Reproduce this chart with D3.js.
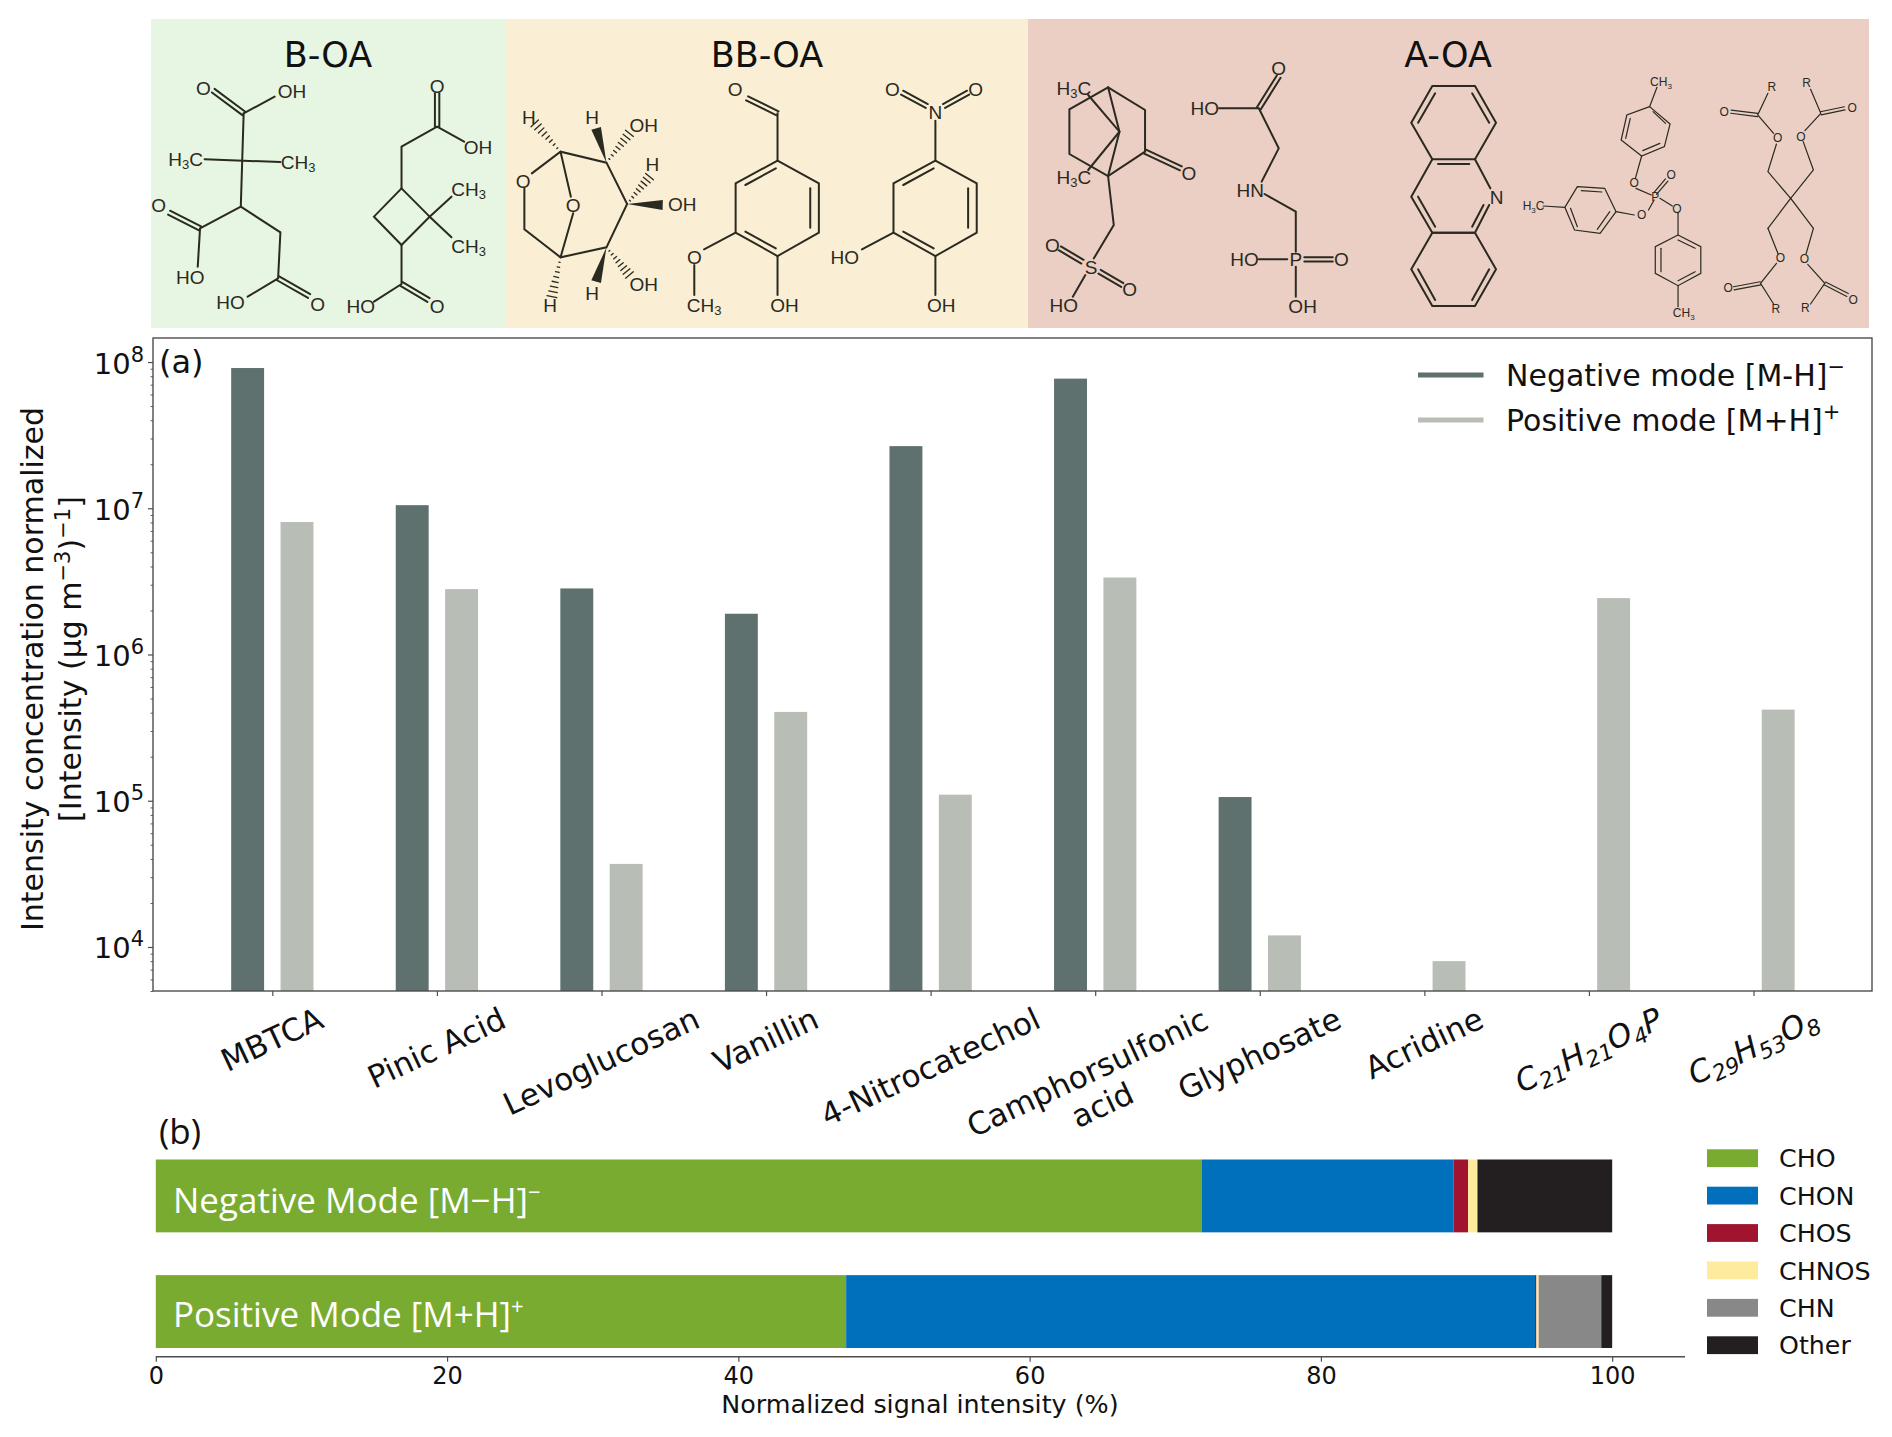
<!DOCTYPE html>
<html><head><meta charset="utf-8">
<script src="https://cdn.jsdelivr.net/npm/d3@7/dist/d3.min.js"></script>
<style>html,body{margin:0;padding:0;background:#fff}svg{display:block}text{fill:#111}</style>
</head><body><svg id="c" width="1892" height="1437"></svg>
<script>
// ---------- data ----------
const categories = ["MBTCA","Pinic Acid","Levoglucosan","Vanillin","4-Nitrocatechol",["Camphorsulfonic","acid"],"Glyphosate","Acridine","C21H21O4P","C29H53O8"];
const negativeValues = [9.1e7,1.05e7,2.83e6,1.9e6,2.66e7,7.7e7,1.06e5,null,null,null];
const positiveValues = [8.05e6,2.8e6,3.7e4,4.05e5,1.1e5,3.36e6,1.2e4,8.0e3,2.43e6,4.2e5];
const yMajorTicks = [1e4,1e5,1e6,1e7,1e8];
const composition = ["CHO","CHON","CHOS","CHNOS","CHN","Other"];
const negativeShares = [71.8,17.3,1.0,0.65,0,9.25];
const positiveShares = [47.4,47.3,0.1,0.15,4.3,0.75];
const modes = ["Negative","Positive"];
const shareTicks = [0,20,40,60,80,100];
const groupLabels = ["B-OA","BB-OA","A-OA"];

// ---------- styles ----------
const NEG="#5f716e",POS="#b8bdb6",AX="#4d4d4d";
const compColor=d3.scaleOrdinal(composition,["#78ab30","#0070bc","#a0142f","#feeb9e","#888888","#231f20"]);
const DV="'DejaVu Sans'", OS="'Open Sans'";
const svg=d3.select("#c");
svg.append("rect").attr("width",1892).attr("height",1437).attr("fill","#fff");

// ---------- header bands ----------
const bands=[[151,506,"#e7f5e3"],[506,1028,"#faefd4"],[1028,1869,"#ebcfc5"]];
svg.selectAll("rect.band").data(bands).join("rect").attr("class","band")
  .attr("x",d=>d[0]).attr("y",19).attr("width",d=>d[1]-d[0]).attr("height",309).attr("fill",d=>d[2]);
svg.selectAll("text.gl").data(groupLabels).join("text").attr("class","gl")
  .attr("x",(d,i)=>[328,767,1448][i]).attr("y",67).attr("text-anchor","middle")
  .attr("font-family",DV).attr("font-size",35).text(d=>d);

// ---------- chemical structures (decoration, drawn in crop coordinates) ----------
const z1=(x,y)=>[130+x/1.742,y/3], z2=(x,y)=>[1000+x/1.758,y/3];
function ring(p){return p.concat(p.slice(0,2));}
const molecules=[
 {z:z1,paths:[[198,340,193,620,122,685,118,800],[198,340,252,290],[130,478,262,486],[193,620,262,697,258,835,205,890]],
  doubles:[[198,340,145,272],[122,685,68,638],[258,835,312,888]],
  atoms:[["O",128,265],["OH",282,272],["H3C",97,478],["CH3",293,487],["O",50,615],["HO",105,830],["HO",175,907],["O",327,913]]},
 {z:z1,paths:[[582,425,535,380,473,440,473,565],ring([473,565,425,650,473,735,522,650]),[522,650,560,590],[522,650,560,712],[473,735,473,852,425,905]],
  doubles:[[535,380,535,280],[473,852,520,900]],
  atoms:[["O",535,257],["OH",606,440],["CH3",590,568],["CH3",590,737],["HO",402,918],["O",535,918]]},
 {z:z1,paths:[[700,520,750,455,830,488,866,612,830,742,750,772,687,688,687,565],[750,455,768,590],[750,772,772,640]],
  wedges:[[830,488,812,385],[866,612,928,615],[830,742,812,845]],
  hashes:[[750,455,705,370],[830,488,870,400],[866,612,905,530],[830,742,870,825],[750,772,735,890]],
  atoms:[["O",685,543],["O",772,615],["H",695,350],["H",805,350],["OH",895,375],["H",910,492],["OH",962,612],["OH",895,852],["H",805,878],["H",732,915]]},
 {z:z1,paths:[ring([1128,482,1200,550,1200,698,1128,768,1055,698,1055,550]),[1125,505,1072,555],[1185,565,1185,683],[1125,745,1072,695],[1128,482,1128,340],[1128,768,1128,885],[1055,698,1000,748],[983,795,983,885]],
  doubles:[[1128,340,1075,295]],
  atoms:[["O",1054,266],["O",983,770],["OH",1140,915],["CH3",1000,915]]},
 {z:z1,paths:[ring([1403,482,1475,550,1475,698,1403,768,1330,698,1330,550]),[1400,505,1347,555],[1460,565,1460,683],[1400,745,1347,695],[1403,482,1403,362],[1403,768,1403,885],[1330,698,1275,748]],
  doubles:[[1388,318,1345,278],[1418,318,1460,278]],
  atoms:[["N",1403,335],["O",1328,266],["O",1473,266],["OH",1413,915],["HO",1245,770]]},
 {z:z2,paths:[ring([190,262,255,330,255,455,190,528,122,462,122,328]),[190,262,210,395,190,528],[155,285,210,395,155,510],[190,528,200,675,165,775],[150,825,128,890]],
  doubles:[[255,455,318,505],[145,785,105,745],[175,815,215,855]],
  atoms:[["H3C",130,265],["H3C",130,530],["O",332,518],["S",160,800],["O",92,735],["O",228,868],["HO",112,915]]},
 {z:z2,paths:[[385,325,455,325,490,445,460,545],[465,582,520,635,520,755],[455,778,505,778],[520,800,520,890]],
  doubles:[[490,230,455,325],[535,778,585,778]],
  atoms:[["O",490,205],["HO",360,325],["HN",440,570],["P",520,778],["HO",430,778],["O",600,778],["OH",532,918]]},
 {z:z2,paths:[ring([760,258,835,258,872,368,835,478,760,478,723,368]),[760,478,723,590,760,698,835,698,860,615],[835,478,862,565],ring([760,698,835,698,872,808,835,918,760,918,723,808]),
   [735,368,765,280],[830,280,860,368],[770,492,825,492],[735,590,765,680],[850,615,830,680],[735,808,765,900],[860,808,830,900]],
  atoms:[["N",873,590]]},
 {z:z2,thin:true,paths:[ring([1142,320,1178,372,1168,440,1128,468,1092,420,1102,345]),[1148,335,1170,370],[1160,430,1130,452],[1100,415,1108,355],[1142,320,1155,262],[1128,468,1117,535],[1118,565,1145,585],
   ring([1015,560,1063,565,1083,635,1055,700,1010,690,993,622]),[1022,572,1058,576],[1072,635,1050,688],[1015,680,1003,625],[993,622,955,618],[1083,635,1115,645],[1140,630,1150,600],
   ring([1192,705,1232,740,1232,820,1192,857,1152,820,1152,740]),[1192,720,1222,745],[1222,815,1192,842],[1162,815,1162,745],[1192,640,1192,705],[1192,857,1192,920],[1160,595,1182,618]],
  doubles:[[1152,580,1172,540]],
  atoms:[["CH3",1162,245],["O",1115,550],["O",1128,645],["O",1190,627],["O",1180,525],["P",1152,590],["H3C",938,618],["CH3",1202,938]]},
 {z:z2,thin:true,paths:[[1390,595,1350,515,1365,432],[1360,400,1332,345,1350,280],[1390,595,1430,510,1412,425],[1415,392,1443,340,1425,268],[1350,685,1390,595,1430,685],[1350,685,1368,762],[1365,790,1337,850,1360,912],[1430,685,1417,762],[1420,793,1450,850,1425,912]],
  doubles:[[1332,345,1285,335],[1443,340,1485,325],[1337,850,1290,865],[1450,850,1490,885]],
  atoms:[["R",1357,262],["O",1273,335],["O",1367,415],["R",1418,250],["O",1498,325],["O",1408,410],["O",1372,775],["O",1280,865],["R",1364,928],["O",1414,777],["R",1416,925],["O",1500,900]]}
];
const INK="#2a2a20";
molecules.forEach(m=>{
  const g=svg.append("g").attr("stroke",INK).attr("stroke-width",m.thin?1.2:2).attr("fill","none").attr("stroke-linecap","round");
  const P=(x,y)=>m.z(x,y);
  (m.paths||[]).forEach(a=>{const pts=[];for(let i=0;i<a.length;i+=2)pts.push(P(a[i],a[i+1]));g.append("path").attr("d",d3.line()(pts));});
  (m.doubles||[]).forEach(a=>{const [x1,y1]=P(a[0],a[1]),[x2,y2]=P(a[2],a[3]);const dx=x2-x1,dy=y2-y1,l=Math.hypot(dx,dy),o=m.thin?1.6:2.2,nx=-dy/l*o,ny=dx/l*o;
    [1,-1].forEach(s=>g.append("line").attr("x1",x1+s*nx).attr("y1",y1+s*ny).attr("x2",x2+s*nx).attr("y2",y2+s*ny));});
  (m.wedges||[]).forEach(a=>{const [x1,y1]=P(a[0],a[1]),[x2,y2]=P(a[2],a[3]);const dx=x2-x1,dy=y2-y1,l=Math.hypot(dx,dy),nx=-dy/l*5,ny=dx/l*5;
    svg.append("path").attr("fill",INK).attr("d",`M${x1},${y1}L${x2+nx},${y2+ny}L${x2-nx},${y2-ny}Z`);});
  (m.hashes||[]).forEach(a=>{const [x1,y1]=P(a[0],a[1]),[x2,y2]=P(a[2],a[3]);const dx=x2-x1,dy=y2-y1,l=Math.hypot(dx,dy),n=8;
    for(let i=1;i<=n;i++){const t=i/n,w=t*5,cx=x1+dx*t,cy=y1+dy*t,nx=-dy/l*w,ny=dx/l*w;
      g.append("line").attr("stroke-width",1.3).attr("x1",cx+nx).attr("y1",cy+ny).attr("x2",cx-nx).attr("y2",cy-ny);}});
  (m.atoms||[]).forEach(a=>{const [x,y]=P(a[1],a[2]);
    const t=svg.append("text").attr("x",x).attr("y",y+(m.thin?4:7)).attr("text-anchor","middle").attr("font-family","'Liberation Sans'")
      .attr("font-size",m.thin?12:19).style("fill",INK);
    let back=0;
    a[0].split(/(\d)/).filter(Boolean).forEach(s=>{
      if(/\d/.test(s)){t.append("tspan").attr("dy",3).attr("font-size",m.thin?8:13).text(s);back=-3;}
      else {t.append("tspan").attr("dy",back).text(s);back=0;}});});
});

// ---------- panel (a) ----------
const ML=153,MR=1872,MT=338,MB=991;
const x=d3.scaleLinear().domain([-0.725,9.72]).range([ML,MR]);
const y=d3.scaleLog().domain([5000,1.46e8]).range([MB,MT]);
const barW=x(0.2)-x(0), off=0.15;
const idx=d3.range(categories.length);
const gA=svg.append("g");
gA.selectAll("rect.neg").data(idx.filter(i=>negativeValues[i]!=null)).join("rect").attr("class","neg")
  .attr("x",i=>x(i-off)-barW/2).attr("width",barW).attr("y",i=>y(negativeValues[i])).attr("height",i=>MB-y(negativeValues[i])).attr("fill",NEG);
gA.selectAll("rect.pos").data(idx).join("rect").attr("class","pos")
  .attr("x",i=>x(i+off)-barW/2).attr("width",barW).attr("y",i=>y(positiveValues[i])).attr("height",i=>MB-y(positiveValues[i])).attr("fill",POS);

// frame
svg.append("rect").attr("x",ML).attr("y",MT).attr("width",MR-ML).attr("height",MB-MT).attr("fill","none").attr("stroke",AX).attr("stroke-width",1.4);

// y axis
const minor=[];yMajorTicks.concat([1e3]).forEach(d=>{for(let k=2;k<10;k++){const v=d*k;if(v>=5000&&v<=1.46e8)minor.push(v);}});
const yMin=svg.append("g").attr("transform",`translate(${ML},0)`).call(d3.axisLeft(y).tickValues(minor).tickSize(2.5).tickFormat(""));
yMin.select(".domain").remove(); yMin.selectAll("line").attr("stroke",AX).attr("stroke-width",.9);
const yMaj=svg.append("g").attr("transform",`translate(${ML},0)`).call(d3.axisLeft(y).tickValues(yMajorTicks).tickSize(5).tickPadding(9).tickFormat(""));
yMaj.select(".domain").remove(); yMaj.selectAll("line").attr("stroke",AX).attr("stroke-width",1.2);
yMaj.selectAll("text").each(function(d){
  const t=d3.select(this).attr("font-family",DV).attr("font-size",29).attr("text-anchor","end").attr("dy",null).attr("y",11).attr("x",-9);
  t.selectAll("*").remove();
  t.append("tspan").text("10");
  t.append("tspan").attr("dy",-12).attr("font-size",21).text(Math.round(Math.log10(d)));
});
// y title
const yT=svg.append("g").attr("font-family",DV).attr("font-size",30).attr("text-anchor","middle");
yT.append("text").attr("transform","translate(43,669) rotate(-90)").text("Intensity concentration normalized");
const yT2=yT.append("text").attr("transform","translate(81,659) rotate(-90)");
yT2.append("tspan").text("[Intensity (µg m");
yT2.append("tspan").attr("dy",-11).attr("font-size",21).text("−3");
yT2.append("tspan").attr("dy",11).text(")");
yT2.append("tspan").attr("dy",-11).attr("font-size",21).text("−1");
yT2.append("tspan").attr("dy",11).text("]");

// x axis
const xAx=svg.append("g").attr("transform",`translate(0,${MB})`).call(d3.axisBottom(x).tickValues(idx).tickSize(5).tickFormat(""));
xAx.select(".domain").remove(); xAx.selectAll("line").attr("stroke",AX).attr("stroke-width",1.2);
const ROT=-25, LBLTOP=1002, XFS=31;
idx.forEach(i=>{
  const c=categories[i];
  const t=svg.append("text").attr("font-family",DV).attr("font-size",XFS).attr("text-anchor","middle");
  if(Array.isArray(c)){ c.forEach((s,k)=>t.append("tspan").attr("x",0).attr("y",(k-0.5)*XFS*1.15+10).text(s)); }
  else if(/^C\d/.test(c)){ t.attr("y",10).attr("font-style","italic");
    let back=0;
    c.match(/[A-Z]\d*/g).forEach(tok=>{const m=tok.match(/([A-Z])(\d*)/);
      t.append("tspan").attr("dy",back).text(m[1]);back=0;
      if(m[2]){t.append("tspan").attr("dy",6).attr("font-size",22).text(m[2]);back=-6;}});
  } else t.attr("y",10).text(c);
  const w=Array.isArray(c)?d3.max(t.selectAll("tspan").nodes().map(n=>n.getComputedTextLength())):t.node().getComputedTextLength();
  const h=Array.isArray(c)?XFS*2.3:XFS*1.1, th=-ROT*Math.PI/180;
  const half=(w*Math.sin(th)+h*Math.cos(th))/2;
  t.attr("transform",`translate(${x(i)},${LBLTOP+half}) rotate(${ROT})`);
});

// panel tags and legend
svg.append("text").attr("x",159).attr("y",373).attr("font-family",DV).attr("font-size",32).text("(a)");
const legA=[["Negative mode [M-H]","−",NEG,375],["Positive mode [M+H]","+",POS,420]];
legA.forEach(d=>{
  svg.append("line").attr("x1",1418).attr("x2",1483.5).attr("y1",d[3]).attr("y2",d[3]).attr("stroke",d[2]).attr("stroke-width",5);
  const t=svg.append("text").attr("x",1506).attr("y",d[3]+11).attr("font-family",DV).attr("font-size",30);
  t.append("tspan").text(d[0]); t.append("tspan").attr("dy",-12).attr("font-size",21).text(d[1]);
});

// ---------- panel (b) ----------
const xB=d3.scaleLinear().domain([0,105]).range([155.8,1685]);
const yBb=d3.scaleBand().domain(modes).range([1159.5,1348]).paddingInner(0.37).paddingOuter(0);
const rows=modes.map((m,i)=>{const o={mode:m};composition.forEach((c,k)=>o[c]=(i?positiveShares:negativeShares)[k]);return o;});
const stacked=d3.stack().keys(composition)(rows);
svg.append("g").selectAll("g").data(stacked).join("g").attr("fill",d=>compColor(d.key))
  .selectAll("rect").data(d=>d).join("rect")
  .attr("x",d=>xB(d[0])).attr("width",d=>xB(d[1])-xB(d[0]))
  .attr("y",d=>yBb(d.data.mode)).attr("height",yBb.bandwidth());
const xAxB=svg.append("g").attr("transform","translate(0,1356.7)").call(d3.axisBottom(xB).tickValues(shareTicks).tickSize(5).tickPadding(5).tickFormat(d3.format("d")));
xAxB.select(".domain").attr("stroke",AX).attr("stroke-width",1.6).attr("d","M155.8,0H1685");
xAxB.selectAll("line").attr("stroke",AX).attr("stroke-width",1.2);
xAxB.selectAll("text").attr("font-family",DV).attr("font-size",24);
svg.append("text").attr("x",920).attr("y",1413).attr("text-anchor","middle").attr("font-family",DV).attr("font-size",25.4).text("Normalized signal intensity (%)");
svg.append("text").attr("x",159).attr("y",1144).attr("font-family",OS).attr("font-size",35).text("(b)");

[["Negative Mode [M−H]","−","Negative",17],["Positive Mode [M+H]","+","Positive",15]].forEach(d=>{
  const t=svg.append("text").attr("x",173).attr("y",yBb(d[2])+yBb.bandwidth()/2+d[3]).attr("font-family",OS).attr("font-size",35);
  t.append("tspan").style("fill","#fff").text(d[0]);
  t.append("tspan").style("fill","#fff").attr("dy",-13).attr("font-size",22).text(d[1]);
});
const legB=svg.append("g");
composition.forEach((c,i)=>{
  const yy=1149.3+i*37.4;
  legB.append("rect").attr("x",1707).attr("y",yy).attr("width",51).attr("height",17.8).attr("fill",compColor(c));
  legB.append("text").attr("x",1779).attr("y",yy+18).attr("font-family",DV).attr("font-size",25.3).text(c);
});
</script></body></html>
